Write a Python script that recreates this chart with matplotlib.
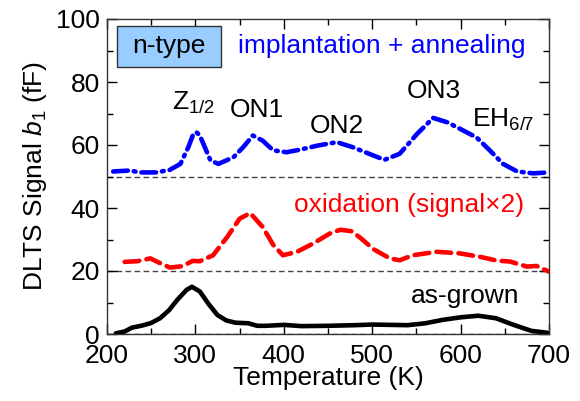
import matplotlib
matplotlib.use("Agg")
import matplotlib.pyplot as plt
from matplotlib.patches import Rectangle
from matplotlib.ticker import MultipleLocator

plt.rcParams['font.family'] = ['Liberation Sans', 'DejaVu Sans']
plt.rcParams['mathtext.fontset'] = 'custom'
plt.rcParams['mathtext.rm'] = 'Liberation Sans'
plt.rcParams['mathtext.it'] = 'Liberation Sans:italic'

# as-grown
T_grown = [210, 220, 228, 240, 250, 260, 270, 280, 290, 296, 305, 315, 325, 335, 345,
           360, 370, 380, 400, 420, 450, 480, 500, 520, 540, 560, 580, 600, 620, 640,
           660, 680, 698]
b_grown = [0.2, 0.8, 2.0, 2.7, 3.5, 5.0, 7.5, 11.0, 14.0, 15.0, 13.5, 9.5, 6.0, 4.3, 3.6,
           3.4, 2.6, 2.6, 2.9, 2.5, 2.6, 2.8, 3.0, 2.9, 2.8, 3.4, 4.5, 5.3, 5.8, 5.0,
           2.9, 1.0, 0.4]

# oxidation (signal x2), offset +20
T_ox = [220, 234, 249, 260, 271, 285, 297, 305, 320, 336, 350, 362, 376, 388, 399, 415,
        433, 452, 464, 477, 488, 501, 520, 531, 546, 573, 599, 622, 641, 656, 675, 686, 700]
b_ox = [22.9, 23.1, 24.0, 22.5, 21.1, 21.5, 23.2, 23.1, 25.0, 30.8, 36.6, 38.4, 34.0, 28.3,
        25.0, 26.1, 28.7, 31.9, 33.1, 32.6, 30.2, 27.0, 24.0, 23.4, 25.0, 26.1, 25.6, 24.5,
        23.3, 23.0, 21.4, 21.6, 19.8]

# implantation + annealing, offset +50
T_imp = [207, 226, 237, 256, 271, 283, 292, 297, 301, 305, 309, 317, 326, 343, 354, 365,
         376, 388, 403, 418, 438, 460, 478, 501, 514, 531, 551, 569, 585, 603, 618, 633,
         648, 664, 682, 700]
b_imp = [51.6, 51.9, 51.3, 51.3, 52.1, 54.0, 59.3, 63.0, 64.1, 63.0, 60.4, 55.1, 54.0,
         56.1, 59.3, 63.0, 61.4, 58.3, 57.7, 58.5, 59.8, 60.9, 59.3, 56.7, 55.3, 57.2, 63.6,
         68.6, 67.2, 64.6, 62.4, 58.3, 54.0, 51.6, 51.0, 51.3]

baselines = [0, 20, 50]

fig = plt.figure(figsize=(5.8, 4.01), dpi=100)
ax = fig.add_axes([107 / 580, 1 - 334 / 401, 442 / 580, 315 / 401])

for b0 in baselines:
    ax.axhline(b0, color='#444444', lw=1.0, ls=(0, (4, 2.5)), zorder=1)

ax.plot(T_grown, b_grown, color='black', lw=3.3, solid_capstyle='round',
        solid_joinstyle='round', zorder=3)
ax.plot(T_ox, b_ox, color='red', lw=3.3, ls=(0, (3.2, 1.6)),
        dash_capstyle='round', dash_joinstyle='round', zorder=3)
ax.plot(T_imp, b_imp, color='blue', lw=3.3, ls=(0, (3.2, 1.3, 0.4, 1.3)),
        dash_capstyle='round', dash_joinstyle='round', zorder=3)

ax.set_xlim(200, 700)
ax.set_ylim(0, 100)
ax.xaxis.set_major_locator(MultipleLocator(100))
ax.xaxis.set_minor_locator(MultipleLocator(50))
ax.yaxis.set_major_locator(MultipleLocator(20))
ax.yaxis.set_minor_locator(MultipleLocator(10))
ax.tick_params(which='both', direction='in', top=True, right=True,
               labelsize=19, width=1, colors='black')
ax.tick_params(which='major', length=7)
ax.tick_params(axis='x', which='major', pad=7)
ax.tick_params(axis='y', which='major', pad=5)
ax.tick_params(which='minor', length=4)
for s in ax.spines.values():
    s.set_linewidth(1.0)
    s.set_color('#333333')

fs = 19
ax.set_xlabel('Temperature (K)', fontsize=fs, labelpad=-1)
ax.set_ylabel('DLTS Signal $b_1$ (fF)', fontsize=fs, labelpad=5)

# n-type tag
ax.add_patch(Rectangle((211.3, 84.8), 117.7, 13.0, fc='#99ccff', ec='#333333',
                       lw=1, zorder=4))
ax.text(270, 91.3, 'n-type', fontsize=fs, ha='center', va='center', zorder=5)

ax.text(511, 89.2, 'implantation + annealing', fontsize=fs, color='blue',
        ha='center', va='baseline')
ax.text(542, 38.7, 'oxidation (signal×2)', fontsize=fs, color='red',
        ha='center', va='baseline')
ax.text(605, 9.8, 'as-grown', fontsize=fs, color='black',
        ha='center', va='baseline')
ax.text(273.5, 71.1, 'Z$_{1/2}$', fontsize=fs, ha='left', va='baseline')
ax.text(369, 68.9, 'ON1', fontsize=fs, ha='center', va='baseline')
ax.text(460, 63.8, 'ON2', fontsize=fs, ha='center', va='baseline')
ax.text(570, 74.9, 'ON3', fontsize=fs, ha='center', va='baseline')
ax.text(613, 65.7, 'EH$_{6/7}$', fontsize=fs, ha='left', va='baseline')

fig.savefig('out.png', dpi=100)
